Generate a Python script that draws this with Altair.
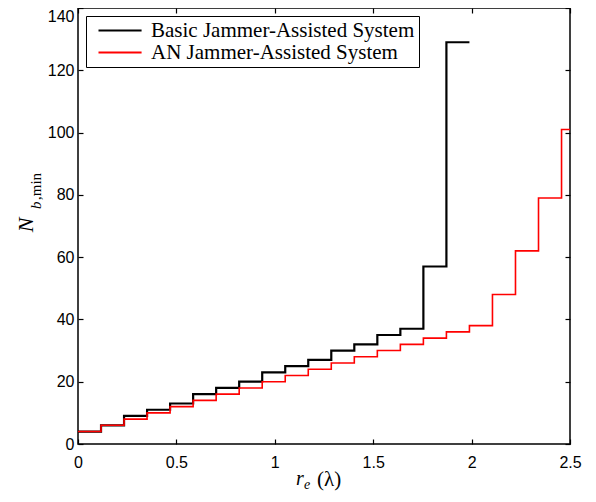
import altair as alt
import pandas as pd

# ---- data ----
series_names = ["Basic Jammer-Assisted System", "AN Jammer-Assisted System"]
series_colors = ["black", "red"]

basic_x = [0.0, 0.117, 0.234, 0.351, 0.468, 0.585, 0.702, 0.819, 0.936, 1.053,
           1.17, 1.287, 1.404, 1.521, 1.638, 1.755, 1.872, 1.989]
basic_y = [4, 6, 9, 11, 13, 16, 18, 20, 23, 25, 27, 30, 32, 35, 37, 57, 129, 129]

an_x = [0.0, 0.117, 0.234, 0.351, 0.468, 0.585, 0.702, 0.819, 0.936, 1.053,
        1.17, 1.287, 1.404, 1.521, 1.638, 1.755, 1.872, 1.989, 2.106, 2.223,
        2.34, 2.457, 2.5]
an_y = [4, 6, 8, 10, 12, 14, 16, 18, 20, 22, 24, 26, 28, 30, 32, 34, 36, 38,
        48, 62, 79, 101, 101]

x_ticks = [0, 0.5, 1, 1.5, 2, 2.5]
y_ticks = [0, 20, 40, 60, 80, 100, 120, 140]

# ---- layout ----
W, H = 492, 436
SANS = "Liberation Sans"
SERIF = "Liberation Serif"

df_basic = pd.DataFrame({"x": basic_x, "y": basic_y, "system": series_names[0]})
df_an = pd.DataFrame({"x": an_x, "y": an_y, "system": series_names[1]})

x_scale = alt.Scale(domain=[0, 2.5], nice=False, zero=False)
y_scale = alt.Scale(domain=[0, 140], nice=False)
color_scale = alt.Scale(domain=series_names, range=series_colors)

# long legend line drawn with a small symbol size (keeps rows compact)
legend = alt.Legend(
    title=None, orient="none", legendX=8, legendY=8, symbolType="M0,0H8",
    symbolSize=116, symbolStrokeWidth=2, labelFont=SERIF, labelFontSize=21,
    labelColor="black", labelLimit=0, labelOffset=42, padding=4,
    symbolOffset=-2, rowPadding=0, strokeColor="black", fillColor="white",
)

main_x_axis = alt.Axis(
    values=x_ticks, format="~g", tickSize=0, domain=False, grid=False,
    labelFont=SANS, labelFontSize=16, labelColor="black", labelPadding=10,
    labelFlush=False, title=None,
)
main_y_axis = alt.Axis(
    values=y_ticks, tickSize=0, domain=False, grid=False,
    labelFont=SANS, labelFontSize=16, labelColor="black", labelPadding=4,
    labelFlush=False, title=None,
    labelBaseline={"condition": {"test": "datum.value == 140", "value": "top"},
                   "value": "middle"},
)

color_enc = alt.Color("system:N", scale=color_scale, legend=legend)

black_layer = alt.Chart(df_basic).mark_line(
    interpolate="step-after", strokeWidth=2.2
).encode(
    x=alt.X("x:Q", scale=x_scale, axis=main_x_axis),
    y=alt.Y("y:Q", scale=y_scale, axis=main_y_axis),
    color=color_enc,
)

red_layer = alt.Chart(df_an).mark_line(
    interpolate="step-after", strokeWidth=1.6
).encode(
    x=alt.X("x:Q", scale=x_scale, axis=None),
    y=alt.Y("y:Q", scale=y_scale, axis=None),
    color=color_enc,
)


def tick_axis(orient, offset, values):
    return alt.Axis(
        orient=orient, offset=offset, values=values, labels=False,
        domain=False, grid=False, ticks=True, tickSize=5, tickColor="black",
        tickWidth=1.2, title=None,
    )


# inward ticks: bottom & left
ticks_a = alt.Chart(df_an).mark_line(opacity=0).encode(
    x=alt.X("x:Q", scale=x_scale, axis=tick_axis("top", -H, x_ticks)),
    y=alt.Y("y:Q", scale=y_scale, axis=tick_axis("right", -W, y_ticks)),
)
# inward ticks: top & right
ticks_b = alt.Chart(df_an).mark_line(opacity=0).encode(
    x=alt.X("x:Q", scale=x_scale, axis=tick_axis("bottom", -H, x_ticks)),
    y=alt.Y("y:Q", scale=y_scale, axis=tick_axis("left", -W, y_ticks)),
)


def txt(s, x, y, size, italic, angle=0, align="left"):
    props = dict(align=align, baseline="alphabetic", font=SERIF, fontSize=size,
                 fontStyle="italic" if italic else "normal", color="black")
    if angle:
        props["angle"] = angle
    return alt.Chart(pd.DataFrame({"t": [s]})).mark_text(**props).encode(
        x=alt.value(x), y=alt.value(y), text="t:N"
    )


titles = [
    # x axis title: r_e (lambda)
    txt("r", 218, 477, 20, True),
    txt("e", 226, 481, 14, True),
    txt("(λ)", 239, 478, 21, False),
    # y axis title: N_{b,min}
    txt("N", -45, 217, 22, True, angle=270, align="center"),
    txt("b", -37, 201, 15, True, angle=270),
    txt(",min", -37, 192, 15, False, angle=270),
]

chart = alt.layer(
    black_layer, red_layer, ticks_a, ticks_b, *titles
).resolve_axis(
    x="independent", y="independent"
).properties(
    width=W, height=H,
    autosize=alt.AutoSizeParams(type="none"),
    padding={"left": 70, "top": 0, "right": 14, "bottom": 48},
).configure_view(
    stroke="black", strokeWidth=1.5
)

chart.save("out.html", embed_options={"renderer": "svg", "actions": False})
